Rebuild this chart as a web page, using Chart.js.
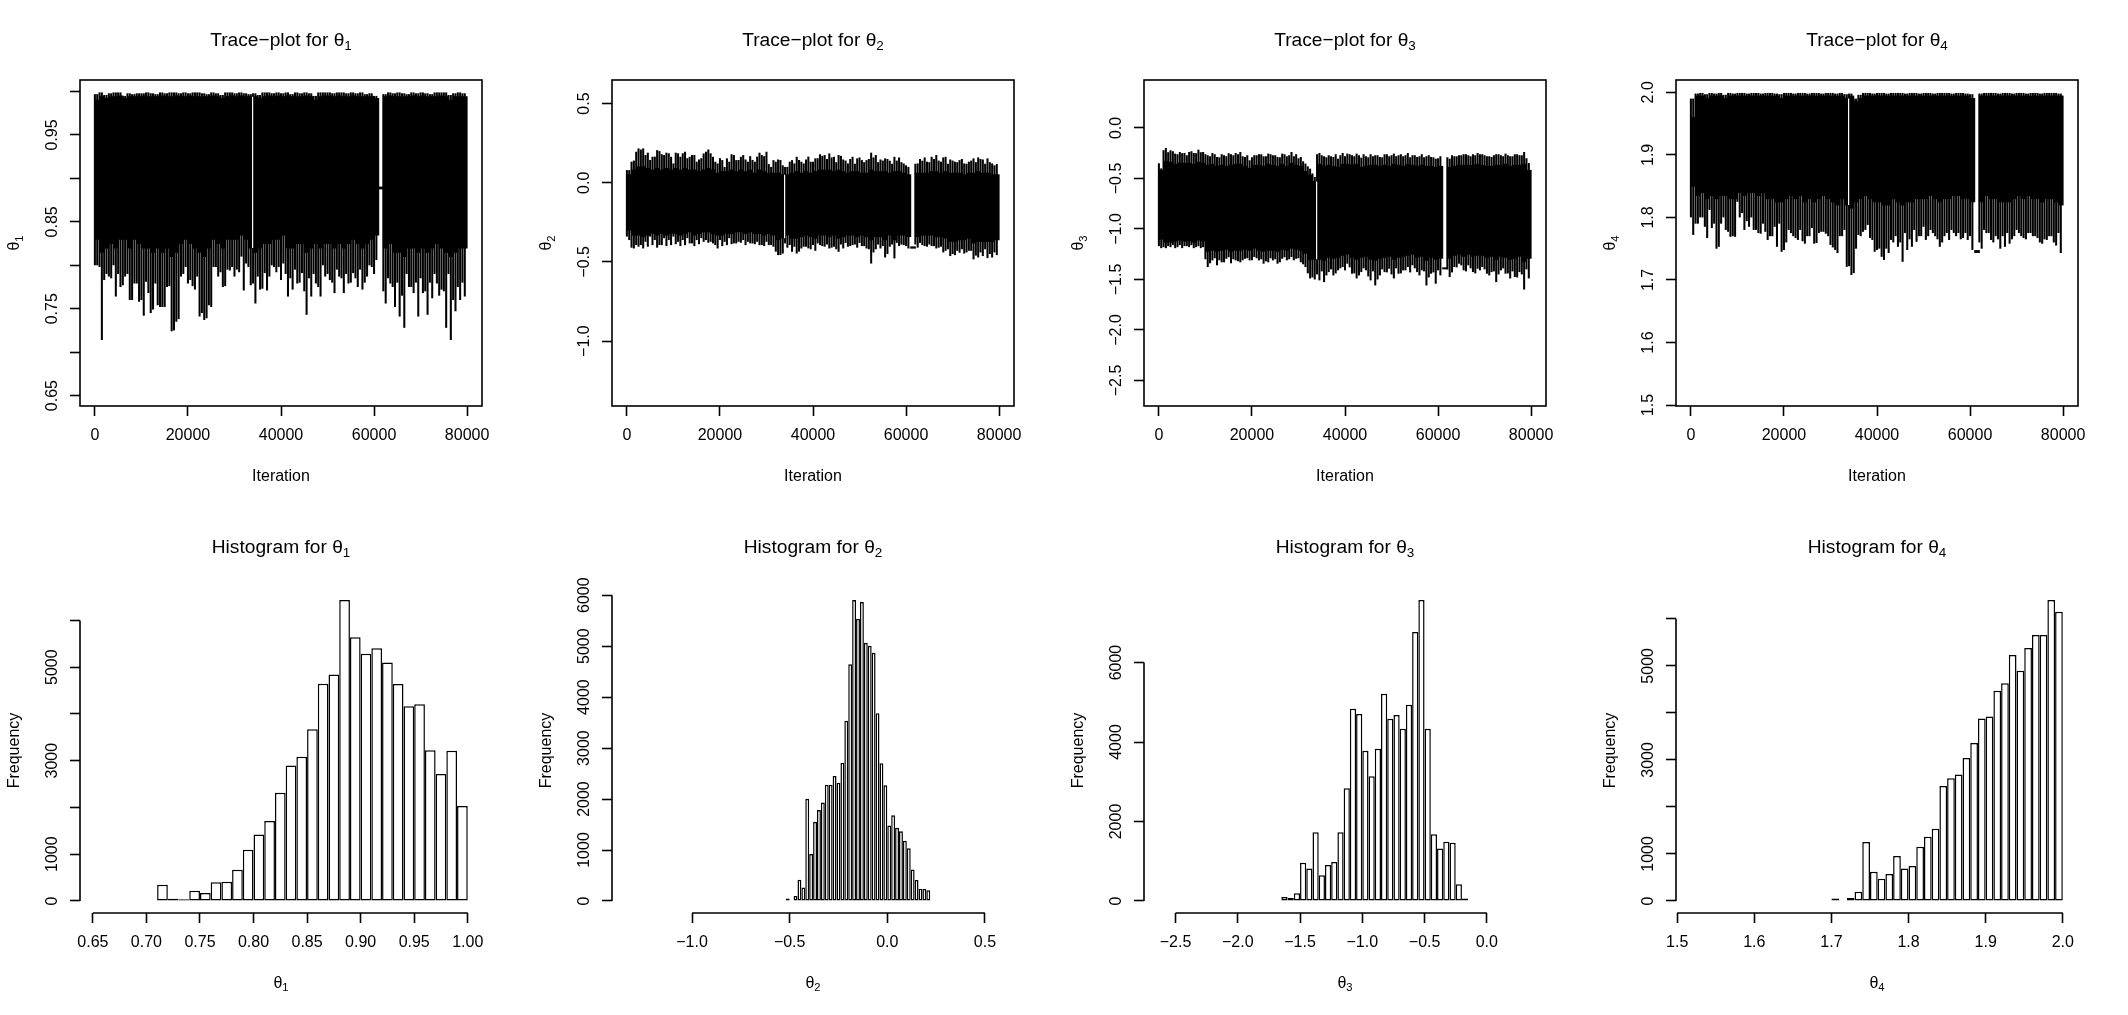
<!DOCTYPE html>
<html>
<head>
<meta charset="utf-8">
<script src="https://cdn.jsdelivr.net/npm/chart.js@4.4.0/dist/chart.umd.min.js"></script>
<style>
  html, body { margin: 0; padding: 0; background: #fff; }
  #wrap { position: relative; width: 2128px; height: 1015px; }
  canvas { position: absolute; }
</style>
</head>
<body>
<div id="wrap"></div>
<script>
const FONT = '"Liberation Sans", Arial, Helvetica, sans-serif';

// ---------- trace plots: 80 bins of 1000 iterations, envelope ----------
// core = solid part of the band, lo/hi = deepest spikes inside a bin,
// loB/hiB = second row of spikes, read at the bin edges
const traceBins = Array.from({ length: 80 }, (_, i) => i * 1000 + 500);
const traceEdges = Array.from({ length: 80 }, (_, i) => i * 1000);
const traceXTicks = [0, 20000, 40000, 60000, 80000];
const traceXLabels = ['0', '20000', '40000', '60000', '80000'];
const stallAt = 33900; // short stall of the chain, shows as a thin white line

// theta 1
const lo1 = [0.80, 0.714, 0.79, 0.785, 0.764, 0.775, 0.787, 0.76, 0.779, 0.758,
  0.742, 0.768, 0.749, 0.754, 0.752, 0.775, 0.724, 0.735, 0.787, 0.798,
  0.783, 0.772, 0.741, 0.737, 0.754, 0.798, 0.787, 0.775, 0.795, 0.798,
  0.795, 0.81, 0.802, 0.777, 0.756, 0.772, 0.791, 0.787, 0.798, 0.798,
  0.802, 0.764, 0.772, 0.779, 0.791, 0.743, 0.764, 0.779, 0.764, 0.787,
  0.783, 0.768, 0.787, 0.768, 0.779, 0.791, 0.775, 0.772, 0.787, 0.798,
  0.806, null, 0.756, 0.779, 0.752, 0.741, 0.728, 0.775, 0.768, 0.741,
  0.768, 0.743, 0.762, 0.779, 0.772, 0.728, 0.714, 0.747, 0.76, 0.764];
const hi1 = [0.997, 0.999, 0.996, 0.998, 0.999, 0.999, 0.995, 0.998, 0.997, 0.998,
  0.998, 0.999, 0.998, 0.997, 0.999, 0.998, 0.999, 0.999, 0.998, 0.999,
  0.998, 0.999, 0.999, 0.998, 0.997, 0.999, 0.998, 0.996, 0.999, 0.999,
  0.998, 0.999, 0.998, 0.997, 0.998, 0.996, 0.999, 0.999, 0.998, 0.999,
  0.998, 0.999, 0.997, 0.999, 0.998, 0.999, 0.998, 0.995, 0.999, 0.999,
  0.999, 0.998, 0.999, 0.999, 0.998, 0.999, 0.998, 0.999, 0.997, 0.998,
  0.995, null, 0.997, 0.999, 0.998, 0.999, 0.998, 0.997, 0.999, 0.998,
  0.999, 0.998, 0.997, 0.999, 0.999, 0.999, 0.996, 0.998, 0.999, 0.998];
const loB1 = [0.80, 0.798, 0.783, 0.787, 0.80, 0.79, 0.777, 0.79, 0.76, 0.779,
  0.76, 0.781, 0.745, 0.779, 0.752, 0.752, 0.776, 0.725, 0.738, 0.79,
  0.779, 0.776, 0.787, 0.745, 0.739, 0.752, 0.798, 0.792, 0.776, 0.794,
  0.787, 0.792, 0.771, 0.798, 0.779, 0.787, 0.773, 0.771, 0.80, 0.792,
  0.783, 0.79, 0.785, 0.795, 0.78, 0.77, 0.785, 0.79, 0.775, 0.80,
  0.79, 0.78, 0.795, 0.785, 0.79, 0.78, 0.785, 0.795, 0.78, 0.80,
  0.79, null, 0.77, 0.785, 0.775, 0.78, 0.765, 0.79, 0.775, 0.78,
  0.785, 0.77, 0.78, 0.79, 0.765, 0.77, 0.79, 0.76, 0.775, 0.78];
const coreLo1 = [0.83, 0.815, 0.82, 0.825, 0.82, 0.83, 0.83, 0.82, 0.83, 0.825,
  0.82, 0.82, 0.815, 0.82, 0.815, 0.82, 0.81, 0.815, 0.825, 0.83,
  0.825, 0.82, 0.815, 0.81, 0.82, 0.83, 0.825, 0.82, 0.83, 0.83,
  0.83, 0.835, 0.83, 0.82, 0.815, 0.82, 0.825, 0.825, 0.83, 0.83,
  0.835, 0.82, 0.82, 0.825, 0.825, 0.815, 0.82, 0.825, 0.82, 0.825,
  0.825, 0.82, 0.825, 0.82, 0.825, 0.83, 0.825, 0.82, 0.825, 0.83,
  0.835, 0.888, 0.82, 0.825, 0.815, 0.815, 0.81, 0.82, 0.82, 0.815,
  0.82, 0.815, 0.82, 0.825, 0.82, 0.815, 0.81, 0.815, 0.82, 0.82];
const coreHi1 = [0.99, 0.994, 0.992, 0.994, 0.994, 0.995, 0.992, 0.994, 0.994, 0.994,
  0.995, 0.994, 0.994, 0.994, 0.995, 0.994, 0.994, 0.995, 0.994, 0.994,
  0.995, 0.994, 0.994, 0.994, 0.994, 0.995, 0.994, 0.992, 0.994, 0.995,
  0.994, 0.995, 0.994, 0.994, 0.994, 0.992, 0.994, 0.995, 0.994, 0.995,
  0.994, 0.995, 0.994, 0.994, 0.994, 0.995, 0.994, 0.99, 0.994, 0.995,
  0.995, 0.994, 0.995, 0.994, 0.994, 0.995, 0.994, 0.994, 0.994, 0.994,
  0.992, 0.890, 0.994, 0.995, 0.994, 0.994, 0.994, 0.994, 0.995, 0.994,
  0.995, 0.994, 0.994, 0.994, 0.995, 0.994, 0.99, 0.994, 0.994, 0.994];

// theta 2
const lo2 = [-0.362, -0.415, -0.404, -0.415, -0.404, -0.394, -0.41, -0.394, -0.40, -0.394,
  -0.388, -0.40, -0.394, -0.383, -0.40, -0.388, -0.373, -0.379, -0.383, -0.415,
  -0.40, -0.394, -0.388, -0.383, -0.379, -0.394, -0.383, -0.388, -0.394, -0.40,
  -0.394, -0.404, -0.457, -0.447, -0.41, -0.436, -0.447, -0.415, -0.404, -0.42,
  -0.43, -0.394, -0.404, -0.415, -0.404, -0.436, -0.415, -0.404, -0.394, -0.41,
  -0.40, -0.415, -0.51, -0.42, -0.415, -0.472, -0.404, -0.478, -0.40, -0.394,
  -0.415, null, -0.41, -0.394, -0.404, -0.40, -0.415, -0.404, -0.43, -0.463,
  -0.457, -0.442, -0.447, -0.43, -0.484, -0.472, -0.463, -0.476, -0.472, -0.457];
const hi2 = [0.08, 0.14, 0.217, 0.217, 0.19, 0.164, 0.206, 0.18, 0.19, 0.164,
  0.19, 0.164, 0.196, 0.164, 0.175, 0.147, 0.185, 0.21, 0.164, 0.122,
  0.143, 0.154, 0.18, 0.143, 0.164, 0.147, 0.168, 0.133, 0.19, 0.168,
  0.118, 0.143, 0.147, 0.11, 0.10, 0.143, 0.164, 0.133, 0.147, 0.133,
  0.154, 0.18, 0.175, 0.185, 0.164, 0.175, 0.147, 0.122, 0.164, 0.154,
  0.143, 0.143, 0.19, 0.175, 0.147, 0.154, 0.139, 0.164, 0.16, 0.122,
  0.10, null, 0.122, 0.139, 0.133, 0.164, 0.175, 0.133, 0.164, 0.147,
  0.133, 0.143, 0.122, 0.133, 0.154, 0.16, 0.147, 0.154, 0.122, 0.118];
const loB2 = [-0.34, -0.41, -0.393, -0.393, -0.373, -0.34, -0.362, -0.393, -0.35, -0.362,
  -0.34, -0.373, -0.362, -0.35, -0.383, -0.362, -0.35, -0.362, -0.373, -0.393,
  -0.362, -0.373, -0.35, -0.383, -0.373, -0.362, -0.373, -0.383, -0.373, -0.393,
  -0.373, -0.393, -0.435, -0.456, -0.383, -0.393, -0.404, -0.435, -0.404, -0.414,
  -0.393, -0.383, -0.40, -0.39, -0.41, -0.42, -0.39, -0.38, -0.40, -0.39,
  -0.38, -0.40, -0.42, -0.44, -0.39, -0.40, -0.45, -0.39, -0.38, -0.39,
  -0.40, null, -0.39, -0.38, -0.40, -0.39, -0.40, -0.41, -0.44, -0.42,
  -0.45, -0.43, -0.42, -0.44, -0.43, -0.46, -0.44, -0.42, -0.45, -0.44];
const hiB2 = [0.08, 0.133, 0.196, 0.21, 0.175, 0.144, 0.165, 0.20, 0.175, 0.186,
  0.122, 0.186, 0.186, 0.155, 0.175, 0.133, 0.155, 0.196, 0.186, 0.133,
  0.155, 0.10, 0.133, 0.175, 0.144, 0.175, 0.133, 0.144, 0.165, 0.175,
  0.196, 0.10, 0.133, 0.144, 0.10, 0.133, 0.122, 0.144, 0.122, 0.165,
  0.133, 0.155, 0.17, 0.15, 0.16, 0.13, 0.17, 0.14, 0.15, 0.12,
  0.16, 0.13, 0.15, 0.16, 0.13, 0.14, 0.15, 0.12, 0.14, 0.13,
  0.11, null, 0.12, 0.15, 0.16, 0.13, 0.15, 0.14, 0.16, 0.12,
  0.14, 0.13, 0.15, 0.12, 0.14, 0.13, 0.15, 0.12, 0.13, 0.11];
const coreLo2 = [-0.30, -0.33, -0.33, -0.34, -0.33, -0.32, -0.33, -0.32, -0.33, -0.32,
  -0.32, -0.33, -0.32, -0.31, -0.33, -0.32, -0.31, -0.31, -0.32, -0.33,
  -0.33, -0.32, -0.32, -0.31, -0.31, -0.32, -0.31, -0.32, -0.32, -0.33,
  -0.32, -0.33, -0.36, -0.35, -0.33, -0.35, -0.35, -0.34, -0.33, -0.34,
  -0.35, -0.33, -0.33, -0.34, -0.33, -0.35, -0.34, -0.33, -0.33, -0.34,
  -0.33, -0.34, -0.36, -0.34, -0.34, -0.36, -0.33, -0.36, -0.33, -0.33,
  -0.34, -0.413, -0.34, -0.33, -0.33, -0.33, -0.34, -0.34, -0.35, -0.37,
  -0.37, -0.36, -0.36, -0.35, -0.38, -0.37, -0.37, -0.37, -0.37, -0.36];
const coreHi2 = [0.05, 0.08, 0.10, 0.10, 0.09, 0.08, 0.09, 0.08, 0.09, 0.08,
  0.09, 0.08, 0.09, 0.08, 0.08, 0.07, 0.08, 0.09, 0.08, 0.06,
  0.07, 0.07, 0.08, 0.07, 0.08, 0.07, 0.08, 0.06, 0.08, 0.07,
  0.06, 0.06, 0.06, 0.05, 0.05, 0.06, 0.07, 0.06, 0.07, 0.06,
  0.07, 0.08, 0.08, 0.08, 0.07, 0.08, 0.07, 0.06, 0.07, 0.07,
  0.06, 0.06, 0.08, 0.07, 0.07, 0.07, 0.06, 0.07, 0.07, 0.06,
  0.05, -0.405, 0.06, 0.06, 0.06, 0.07, 0.07, 0.06, 0.07, 0.06,
  0.06, 0.06, 0.05, 0.06, 0.06, 0.07, 0.06, 0.06, 0.05, 0.05];

// theta 3
const lo3 = [-1.19, -1.19, -1.18, -1.19, -1.16, -1.17, -1.18, -1.19, -1.17, -1.18,
  -1.377, -1.311, -1.36, -1.33, -1.295, -1.34, -1.311, -1.33, -1.295, -1.311,
  -1.278, -1.311, -1.344, -1.33, -1.311, -1.344, -1.295, -1.311, -1.278, -1.295,
  -1.33, -1.377, -1.49, -1.50, -1.509, -1.526, -1.427, -1.46, -1.41, -1.377,
  -1.344, -1.443, -1.49, -1.427, -1.41, -1.509, -1.559, -1.46, -1.427, -1.394,
  -1.49, -1.443, -1.41, -1.377, -1.36, -1.427, -1.41, -1.559, -1.443, -1.542,
  -1.46, null, -1.476, -1.377, -1.344, -1.41, -1.36, -1.427, -1.394, -1.377,
  -1.443, -1.427, -1.526, -1.41, -1.443, -1.49, -1.476, -1.427, -1.60, -1.49];
const hi3 = [-0.40, -0.198, -0.221, -0.254, -0.238, -0.248, -0.238, -0.248, -0.215, -0.238,
  -0.27, -0.248, -0.287, -0.26, -0.28, -0.26, -0.248, -0.238, -0.287, -0.32,
  -0.27, -0.26, -0.28, -0.254, -0.27, -0.287, -0.254, -0.28, -0.238, -0.26,
  -0.287, -0.353, -0.403, -0.485, -0.248, -0.28, -0.27, -0.287, -0.304, -0.248,
  -0.254, -0.27, -0.254, -0.294, -0.28, -0.26, -0.27, -0.287, -0.26, -0.28,
  -0.254, -0.27, -0.28, -0.248, -0.27, -0.287, -0.26, -0.28, -0.287, -0.304,
  -0.28, null, -0.304, -0.28, -0.27, -0.26, -0.27, -0.26, -0.248, -0.26,
  -0.28, -0.287, -0.26, -0.27, -0.254, -0.28, -0.26, -0.27, -0.238, -0.347];
const loB3 = [-1.17, -1.18, -1.17, -1.16, -1.18, -1.19, -1.17, -1.16, -1.18, -1.19,
  -1.30, -1.34, -1.29, -1.31, -1.33, -1.28, -1.30, -1.32, -1.31, -1.29,
  -1.31, -1.29, -1.30, -1.32, -1.29, -1.30, -1.33, -1.28, -1.30, -1.31,
  -1.29, -1.35, -1.44, -1.48, -1.45, -1.42, -1.46, -1.40, -1.44, -1.39,
  -1.41, -1.38, -1.44, -1.46, -1.39, -1.47, -1.42, -1.50, -1.40, -1.43,
  -1.45, -1.39, -1.44, -1.41, -1.43, -1.39, -1.46, -1.42, -1.48, -1.43,
  -1.41, null, -1.40, -1.43, -1.38, -1.36, -1.42, -1.39, -1.44, -1.41,
  -1.40, -1.46, -1.42, -1.45, -1.39, -1.44, -1.42, -1.48, -1.45, -1.40];
const hiB3 = [-0.35, -0.22, -0.24, -0.23, -0.26, -0.25, -0.27, -0.23, -0.25, -0.24,
  -0.26, -0.28, -0.26, -0.29, -0.27, -0.25, -0.27, -0.26, -0.28, -0.27,
  -0.29, -0.27, -0.26, -0.28, -0.26, -0.27, -0.29, -0.26, -0.27, -0.28,
  -0.30, -0.33, -0.38, -0.45, -0.26, -0.27, -0.29, -0.28, -0.26, -0.27,
  -0.28, -0.26, -0.28, -0.27, -0.26, -0.29, -0.28, -0.27, -0.29, -0.26,
  -0.27, -0.28, -0.26, -0.27, -0.29, -0.27, -0.28, -0.29, -0.27, -0.29,
  -0.30, null, -0.29, -0.27, -0.28, -0.27, -0.26, -0.28, -0.27, -0.26,
  -0.27, -0.28, -0.27, -0.26, -0.28, -0.27, -0.28, -0.26, -0.27, -0.30];
const coreLo3 = [-1.10, -1.13, -1.13, -1.12, -1.11, -1.12, -1.12, -1.13, -1.11, -1.12,
  -1.22, -1.21, -1.22, -1.21, -1.20, -1.22, -1.21, -1.21, -1.20, -1.21,
  -1.19, -1.21, -1.22, -1.21, -1.21, -1.22, -1.20, -1.21, -1.19, -1.20,
  -1.21, -1.24, -1.30, -1.30, -1.30, -1.31, -1.28, -1.29, -1.28, -1.26,
  -1.25, -1.28, -1.30, -1.28, -1.27, -1.30, -1.31, -1.29, -1.28, -1.27,
  -1.30, -1.28, -1.27, -1.26, -1.25, -1.28, -1.27, -1.31, -1.28, -1.30,
  -1.29, -1.395, -1.29, -1.26, -1.25, -1.27, -1.25, -1.27, -1.26, -1.26,
  -1.28, -1.27, -1.30, -1.27, -1.28, -1.30, -1.29, -1.27, -1.32, -1.29];
const coreHi3 = [-0.42, -0.33, -0.34, -0.36, -0.35, -0.35, -0.35, -0.36, -0.34, -0.35,
  -0.37, -0.36, -0.38, -0.37, -0.38, -0.37, -0.36, -0.36, -0.38, -0.40,
  -0.37, -0.37, -0.38, -0.36, -0.37, -0.38, -0.36, -0.38, -0.35, -0.37,
  -0.38, -0.43, -0.47, -0.53, -0.36, -0.38, -0.37, -0.38, -0.39, -0.36,
  -0.36, -0.37, -0.36, -0.39, -0.38, -0.37, -0.37, -0.38, -0.37, -0.38,
  -0.36, -0.37, -0.38, -0.36, -0.37, -0.38, -0.37, -0.38, -0.38, -0.39,
  -0.38, -1.385, -0.39, -0.38, -0.37, -0.37, -0.37, -0.37, -0.36, -0.37,
  -0.38, -0.38, -0.37, -0.37, -0.36, -0.38, -0.37, -0.37, -0.36, -0.42];

// theta 4
const lo4 = [1.772, 1.79, 1.80, 1.767, 1.783, 1.75, 1.79, 1.78, 1.769, 1.769,
  1.80, 1.78, 1.785, 1.78, 1.775, 1.79, 1.764, 1.77, 1.753, 1.745,
  1.76, 1.775, 1.767, 1.78, 1.758, 1.77, 1.758, 1.775, 1.777, 1.77,
  1.752, 1.743, 1.77, 1.721, 1.708, 1.75, 1.77, 1.78, 1.767, 1.745,
  1.75, 1.732, 1.743, 1.76, 1.753, 1.729, 1.748, 1.753, 1.761, 1.77,
  1.764, 1.78, 1.77, 1.753, 1.77, 1.764, 1.775, 1.775, 1.767, 1.764,
  1.748, null, 1.75, 1.775, 1.764, 1.77, 1.75, 1.753, 1.758, 1.77,
  1.775, 1.767, 1.775, 1.77, 1.767, 1.758, 1.764, 1.77, 1.755, 1.743];
const hi4 = [1.99, 1.998, 1.999, 1.997, 1.999, 1.998, 1.999, 1.996, 1.999, 1.998,
  1.999, 1.999, 1.998, 1.999, 1.999, 1.998, 1.999, 1.999, 1.998, 1.997,
  1.999, 1.999, 1.998, 1.999, 1.999, 1.998, 1.999, 1.999, 1.998, 1.999,
  1.999, 1.998, 1.999, 1.997, 1.998, 1.99, 1.996, 1.999, 1.999, 1.998,
  1.999, 1.999, 1.998, 1.999, 1.999, 1.999, 1.998, 1.999, 1.999, 1.998,
  1.999, 1.999, 1.998, 1.999, 1.999, 1.999, 1.998, 1.999, 1.999, 1.998,
  1.997, null, 1.998, 1.999, 1.999, 1.999, 1.998, 1.999, 1.999, 1.998,
  1.999, 1.999, 1.998, 1.999, 1.999, 1.998, 1.999, 1.999, 1.999, 1.998];
const loB4 = [1.80, 1.79, 1.80, 1.785, 1.812, 1.79, 1.753, 1.80, 1.777, 1.77,
  1.825, 1.807, 1.794, 1.80, 1.78, 1.774, 1.777, 1.77, 1.785, 1.79,
  1.748, 1.78, 1.77, 1.764, 1.762, 1.77, 1.783, 1.759, 1.777, 1.774,
  1.756, 1.748, 1.77, 1.78, 1.722, 1.711, 1.772, 1.777, 1.788, 1.764,
  1.748, 1.737, 1.75, 1.764, 1.77, 1.76, 1.775, 1.765, 1.78, 1.77,
  1.785, 1.77, 1.775, 1.765, 1.76, 1.775, 1.78, 1.77, 1.765, 1.775,
  1.77, null, 1.76, 1.78, 1.775, 1.76, 1.765, 1.77, 1.775, 1.765,
  1.78, 1.77, 1.765, 1.775, 1.77, 1.76, 1.765, 1.77, 1.76, 1.775];
const coreLo4 = [1.85, 1.835, 1.84, 1.83, 1.835, 1.83, 1.835, 1.835, 1.83, 1.83,
  1.84, 1.835, 1.84, 1.84, 1.835, 1.84, 1.83, 1.83, 1.825, 1.825,
  1.83, 1.835, 1.83, 1.835, 1.825, 1.83, 1.825, 1.83, 1.835, 1.83,
  1.825, 1.82, 1.83, 1.82, 1.815, 1.825, 1.83, 1.835, 1.83, 1.825,
  1.825, 1.82, 1.82, 1.83, 1.825, 1.82, 1.825, 1.825, 1.83, 1.83,
  1.83, 1.835, 1.83, 1.825, 1.83, 1.83, 1.835, 1.835, 1.83, 1.83,
  1.825, 1.744, 1.825, 1.835, 1.83, 1.83, 1.825, 1.825, 1.825, 1.83,
  1.835, 1.83, 1.835, 1.83, 1.83, 1.825, 1.83, 1.83, 1.825, 1.82];
const coreHi4 = [1.96, 1.994, 1.994, 1.99, 1.994, 1.994, 1.994, 1.99, 1.994, 1.994,
  1.994, 1.994, 1.994, 1.994, 1.994, 1.994, 1.994, 1.994, 1.994, 1.99,
  1.994, 1.994, 1.994, 1.994, 1.994, 1.994, 1.994, 1.994, 1.994, 1.994,
  1.994, 1.994, 1.994, 1.99, 1.994, 1.985, 1.99, 1.994, 1.994, 1.994,
  1.994, 1.994, 1.994, 1.994, 1.994, 1.994, 1.994, 1.994, 1.994, 1.994,
  1.994, 1.994, 1.994, 1.994, 1.994, 1.994, 1.994, 1.994, 1.994, 1.994,
  1.99, 1.747, 1.994, 1.994, 1.994, 1.994, 1.994, 1.994, 1.994, 1.994,
  1.994, 1.994, 1.994, 1.994, 1.994, 1.994, 1.994, 1.994, 1.994, 1.994];

// ---------- histograms: bin start, bin width, counts ----------
const histStart1 = 0.71, histWidth1 = 0.01;
const counts1 = [348, 50, 36, 220, 170, 398, 412, 668, 1094, 1421, 1712, 2316, 2899, 3083, 3673,
  4646, 4845, 6436, 5641, 5286, 5406, 5101, 4639, 4163, 4206, 3225, 2714, 3211, 2032];
const histStart2 = -0.52, histWidth2 = 0.02;
const counts2 = [50, 10, 95, 418, 265, 2004, 920, 1555, 1785, 1932, 2280, 2280, 2450, 2320, 2712,
  3535, 4645, 5905, 5540, 5865, 5068, 5008, 4870, 3683, 2704, 2272, 1480, 1680, 1435, 1370,
  1181, 1035, 616, 411, 240, 234, 209];
const histStart3 = -1.65, histWidth3 = 0.05;
const counts3 = [100, 75, 192, 962, 820, 1732, 644, 904, 979, 1732, 2837, 4837, 4703, 3782, 3138,
  3833, 5213, 4586, 4678, 4335, 4937, 6770, 7573, 4335, 1682, 1322, 1490, 1464, 418, 59];
const histStart4 = 1.70, histWidth4 = 0.01;
const counts4 = [50, 10, 64, 198, 1252, 622, 474, 573, 955, 693, 743, 1153, 1365, 1535, 2447,
  2610, 2687, 3041, 3359, 3883, 3925, 4470, 4632, 5233, 4894, 5382, 5658, 5658, 6400, 6153];

// ---------- ticks ----------
const valTicks1 = [0.65, 0.70, 0.75, 0.80, 0.85, 0.90, 0.95, 1.00];
const valTicks2 = [-1.0, -0.5, 0.0, 0.5];
const valLabels2 = ['\u22121.0', '\u22120.5', '0.0', '0.5'];
const valTicks3 = [-2.5, -2.0, -1.5, -1.0, -0.5, 0.0];
const valLabels3 = ['\u22122.5', '\u22122.0', '\u22121.5', '\u22121.0', '\u22120.5', '0.0'];
const valTicks4 = [1.5, 1.6, 1.7, 1.8, 1.9, 2.0];
const valLabels4 = ['1.5', '1.6', '1.7', '1.8', '1.9', '2.0'];
const freqTicks = [0, 1000, 2000, 3000, 4000, 5000, 6000];
const freqTicks3 = [0, 2000, 4000, 6000];

const wrap = document.getElementById('wrap');

function mathText(ctx, main, sub, cx, baseY, size) {
  const subSize = size * 0.7;
  ctx.font = size + 'px ' + FONT;
  const w1 = ctx.measureText(main).width;
  ctx.font = subSize + 'px ' + FONT;
  const w2 = ctx.measureText(sub).width;
  const x0 = cx - (w1 + w2) / 2;
  ctx.textAlign = 'left';
  ctx.textBaseline = 'alphabetic';
  ctx.font = size + 'px ' + FONT;
  ctx.fillText(main, x0, baseY);
  ctx.font = subSize + 'px ' + FONT;
  ctx.fillText(sub, x0 + w1, baseY + size * 0.22);
}

// R-like frame, titles and vertical tick labels
function rPlot(p) {
  return {
    id: 'rPlot',
    afterDraw(chart) {
      const { ctx, chartArea: a, scales: { x, y } } = chart;
      ctx.save();
      ctx.fillStyle = '#000';
      ctx.strokeStyle = '#000';
      ctx.lineWidth = 1.6;
      if (p.box) {
        ctx.strokeRect(a.left, a.top, a.right - a.left, a.bottom - a.top);
      } else {
        ctx.beginPath();
        ctx.moveTo(x.getPixelForValue(p.xTicks[0]), a.bottom);
        ctx.lineTo(x.getPixelForValue(p.xTicks[p.xTicks.length - 1]), a.bottom);
        ctx.moveTo(a.left, y.getPixelForValue(p.yTicks[0]));
        ctx.lineTo(a.left, y.getPixelForValue(p.yTicks[p.yTicks.length - 1]));
        ctx.stroke();
      }
      const cx = (a.left + a.right) / 2;
      mathText(ctx, p.title, p.sub, cx, 45.5, 19.2);
      mathText(ctx, p.xlab, p.xlabSub, cx, 480.5, 16);
      ctx.save();
      ctx.translate(19, (a.top + a.bottom) / 2);
      ctx.rotate(-Math.PI / 2);
      mathText(ctx, p.ylab, p.ylabSub, 0, 0, 16);
      ctx.restore();
      ctx.font = '16px ' + FONT;
      ctx.textAlign = 'center';
      ctx.textBaseline = 'alphabetic';
      p.yTicks.forEach((v, i) => {
        if (!p.yLabels[i]) return;
        ctx.save();
        ctx.translate(56.5, y.getPixelForValue(v));
        ctx.rotate(-Math.PI / 2);
        ctx.fillText(p.yLabels[i], 0, 0);
        ctx.restore();
      });
      ctx.restore();
    }
  };
}

function makeCanvas(col, row) {
  const c = document.createElement('canvas');
  c.width = 532;
  c.height = row === 0 ? 507 : 508;
  c.style.left = (col * 532) + 'px';
  c.style.top = (row === 0 ? 0 : 507) + 'px';
  wrap.appendChild(c);
  return c;
}

function axis(min, max, ticks, labels, isX) {
  return {
    type: 'linear', min, max, offset: false,
    afterBuildTicks: s => { s.ticks = ticks.map(v => ({ value: v })); },
    afterFit: s => { if (isX) s.height = 40; else s.width = 40; },
    ticks: {
      display: isX, autoSkip: false, maxRotation: 0, minRotation: 0, padding: 10,
      color: '#000', font: { family: FONT, size: 16 },
      callback: (v, i) => labels[i]
    },
    grid: { drawOnChartArea: false, drawTicks: true, tickLength: 10, tickColor: '#000', tickWidth: 1.6, offset: false },
    border: { display: false }
  };
}

function baseOptions(row, scales) {
  return {
    responsive: false, animation: false, devicePixelRatio: 1,
    layout: { padding: { left: 40, right: 50, top: row === 0 ? 80 : 81, bottom: row === 0 ? 61 : 62 } },
    plugins: { legend: { display: false }, tooltip: { enabled: false }, title: { display: false } },
    scales
  };
}

const tracePanels = [
  { sub: '1', min: 0.638, max: 1.0133, ticks: valTicks1,
    labels: ['0.65', '', '0.75', '', '0.85', '', '0.95', ''],
    lo: lo1, hi: hi1, loB: loB1, hiB: hi1, coreLo: coreLo1, coreHi: coreHi1 },
  { sub: '2', min: -1.41, max: 0.649, ticks: valTicks2, labels: valLabels2,
    lo: lo2, hi: hi2, loB: loB2, hiB: hiB2, coreLo: coreLo2, coreHi: coreHi2 },
  { sub: '3', min: -2.753, max: 0.475, ticks: valTicks3, labels: valLabels3,
    lo: lo3, hi: hi3, loB: loB3, hiB: hiB3, coreLo: coreLo3, coreHi: coreHi3 },
  { sub: '4', min: 1.4985, max: 2.0197, ticks: valTicks4, labels: valLabels4,
    lo: lo4, hi: hi4, loB: loB4, hiB: hi4, coreLo: coreLo4, coreHi: coreHi4 }
];

const range = (a, b) => (a == null || b == null ? null : [a, b]);

tracePanels.forEach((p, col) => {
  const core = traceBins.map((b, i) => ({ x: b, y: range(p.coreLo[i], p.coreHi[i]) }));
  const spikes = traceBins.map((b, i) => ({ x: b, y: range(p.lo[i], p.hi[i]) }));
  const spikesB = traceEdges.map((b, i) => ({ x: b, y: range(p.loB[i], p.hiB[i]) }));
  const sIdx = traceBins.findIndex(b => b > stallAt) - 1;
  new Chart(makeCanvas(col, 0), {
    type: 'bar',
    data: {
      datasets: [
        { data: core, backgroundColor: '#000', borderWidth: 0, grouped: false,
          barPercentage: 1, categoryPercentage: 1, inflateAmount: 0.5, order: 3 },
        { data: spikes, backgroundColor: '#000', borderWidth: 0, grouped: false,
          barPercentage: 0.44, categoryPercentage: 1, inflateAmount: 0, order: 2 },
        { data: spikesB, xAxisID: 'x2', backgroundColor: '#000', borderWidth: 0, grouped: false,
          barPercentage: 0.44, categoryPercentage: 1, inflateAmount: 0, order: 1 },
        { type: 'line', data: [{ x: stallAt, y: p.coreLo[sIdx] }, { x: stallAt, y: p.coreHi[sIdx] }],
          borderColor: '#fff', borderWidth: 1.2, pointRadius: 0, order: 0 }
      ]
    },
    options: baseOptions(0, {
      x: axis(-3200, 83200, traceXTicks, traceXLabels, true),
      x2: { type: 'linear', display: false, min: -3200, max: 83200, offset: false },
      y: axis(p.min, p.max, p.ticks, p.labels, false)
    }),
    plugins: [rPlot({
      box: true, title: 'Trace\u2212plot for \u03b8', sub: p.sub,
      xlab: 'Iteration', xlabSub: '', ylab: '\u03b8', ylabSub: p.sub,
      xTicks: traceXTicks, yTicks: p.ticks, yLabels: p.labels
    })]
  });
});

const histPanels = [
  { sub: '1', start: histStart1, width: histWidth1, counts: counts1, min: 0.638, max: 1.0133,
    xTicks: valTicks1, xLabels: ['0.65', '0.70', '0.75', '0.80', '0.85', '0.90', '0.95', '1.00'],
    yTicks: freqTicks, yLabels: ['0', '1000', '', '3000', '', '5000', ''] },
  { sub: '2', start: histStart2, width: histWidth2, counts: counts2, min: -1.41, max: 0.649,
    xTicks: valTicks2, xLabels: valLabels2,
    yTicks: freqTicks, yLabels: ['0', '1000', '2000', '3000', '4000', '5000', '6000'] },
  { sub: '3', start: histStart3, width: histWidth3, counts: counts3, min: -2.753, max: 0.475,
    xTicks: valTicks3, xLabels: valLabels3,
    yTicks: freqTicks3, yLabels: ['0', '2000', '4000', '6000'] },
  { sub: '4', start: histStart4, width: histWidth4, counts: counts4, min: 1.4985, max: 2.0197,
    xTicks: valTicks4, xLabels: valLabels4,
    yTicks: freqTicks, yLabels: ['0', '1000', '', '3000', '', '5000', ''] }
];

histPanels.forEach((p, col) => {
  const top = Math.max(...p.counts);
  const data = p.counts.map((c, i) => ({ x: p.start + (i + 0.5) * p.width, y: c }));
  new Chart(makeCanvas(col, 1), {
    type: 'bar',
    data: {
      datasets: [{ data, backgroundColor: '#fff', borderColor: '#000', borderWidth: 1.5,
        borderSkipped: false, barPercentage: 1, categoryPercentage: 1, inflateAmount: 0 }]
    },
    options: baseOptions(1, {
      x: axis(p.min, p.max, p.xTicks, p.xLabels, true),
      y: axis(-0.04 * top, 1.04 * top, p.yTicks, p.yLabels, false)
    }),
    plugins: [rPlot({
      box: false, title: 'Histogram for \u03b8', sub: p.sub,
      xlab: '\u03b8', xlabSub: p.sub, ylab: 'Frequency', ylabSub: '',
      xTicks: p.xTicks, yTicks: p.yTicks, yLabels: p.yLabels
    })]
  });
});
</script>
</body>
</html>
